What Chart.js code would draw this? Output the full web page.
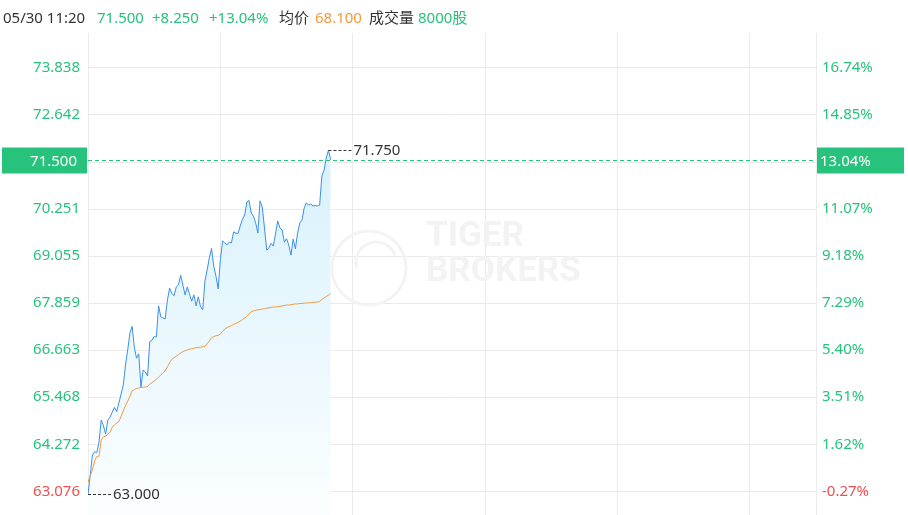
<!DOCTYPE html>
<html>
<head>
<meta charset="utf-8">
<script src="https://cdn.jsdelivr.net/npm/chart.js@4"></script>
<style>
  html, body { margin: 0; padding: 0; background: #fff; }
  #wrap { position: relative; width: 908px; height: 515px; }
  canvas { display: block; }
  #head { position: absolute; left: 0; top: 7px; width: 600px; height: 20px; font: 15px "Noto Sans", "Noto Sans CJK SC", sans-serif; line-height: 20px; color: #333; white-space: pre; }
  #head span { position: absolute; top: 0; }
  .up { color: #27c27c; }
  .avg { color: #f5993a; }
</style>
</head>
<body>
<div id="wrap">
  <canvas id="chart" width="908" height="515"></canvas>
  <div id="head"><span style="left:3px">05/30 11:20</span><span class="up" style="left:97px">71.500</span><span class="up" style="left:152px">+8.250</span><span class="up" style="left:209px">+13.04%</span><span style="left:279px">均价</span><span class="avg" style="left:315px">68.100</span><span style="left:369px">成交量</span><span class="up" style="left:418px">8000股</span></div>
</div>
<script>
const prevClose = 63.25;
const lastPrice = 71.5;
const totalMinutes = 330;

// minute prices from 09:30 to 11:20
const priceData = [
  63.00, 63.49, 64.00, 64.08, 64.06, 64.33, 64.89, 64.74, 64.53, 64.89,
  64.96, 65.09, 65.21, 65.10, 65.32, 65.55, 65.78, 66.29, 66.67, 67.10,
  67.27, 66.74, 66.46, 66.57, 65.73, 66.16, 66.11, 66.01, 66.88, 66.92,
  67.01, 67.00, 67.79, 67.51, 67.48, 67.46, 67.94, 68.24, 68.10, 68.05,
  68.27, 68.32, 68.57, 68.32, 68.07, 68.27, 68.09, 67.91, 68.07, 67.79,
  68.02, 67.77, 67.69, 68.42, 68.70, 69.01, 69.25, 68.80, 68.55, 68.22,
  68.96, 69.44, 69.39, 69.34, 69.41, 69.39, 69.67, 69.64, 69.63, 69.82,
  69.99, 70.10, 70.43, 70.47, 70.15, 70.07, 69.90, 69.64, 70.46, 70.30,
  69.77, 69.21, 69.26, 69.38, 69.31, 69.62, 69.95, 69.77, 69.72, 69.41,
  69.50, 69.34, 69.08, 69.49, 69.24, 69.64, 69.90, 69.97, 70.28, 70.41,
  70.35, 70.38, 70.33, 70.34, 70.33, 70.35, 71.09, 71.24, 71.55, 71.75,
  71.50
];

const avgData = [
  63.31, 63.47, 63.62, 63.85, 63.96, 63.97, 64.38, 64.46, 64.48, 64.52,
  64.58, 64.71, 64.77, 64.81, 64.85, 64.98, 65.12, 65.26, 65.37, 65.49,
  65.63, 65.66, 65.69, 65.70, 65.72, 65.72, 65.73, 65.74, 65.80, 65.84,
  65.88, 65.92, 65.98, 66.03, 66.09, 66.14, 66.24, 66.35, 66.43, 66.47,
  66.51, 66.55, 66.59, 66.63, 66.65, 66.67, 66.69, 66.70, 66.71, 66.73,
  66.73, 66.74, 66.75, 66.76, 66.83, 66.90, 66.98, 67.01, 67.03, 67.04,
  67.07, 67.14, 67.20, 67.24, 67.26, 67.29, 67.32, 67.34, 67.37, 67.40,
  67.44, 67.48, 67.52, 67.59, 67.64, 67.66, 67.68, 67.69, 67.70, 67.71,
  67.72, 67.73, 67.74, 67.75, 67.76, 67.76, 67.77, 67.78, 67.79, 67.80,
  67.81, 67.81, 67.82, 67.83, 67.84, 67.84, 67.85, 67.85, 67.86, 67.86,
  67.87, 67.87, 67.88, 67.88, 67.89, 67.90, 67.95, 67.99, 68.03, 68.06,
  68.10
];

const priceTicks = [63.076, 64.272, 65.468, 66.663, 67.859, 69.055, 70.251, 71.446, 72.642, 73.838];
const priceLabels = ['63.076', '64.272', '65.468', '66.663', '67.859', '69.055', '70.251', '', '72.642', '73.838'];
const pctLabels = ['-0.27%', '1.62%', '3.51%', '5.40%', '7.29%', '9.18%', '11.07%', '', '14.85%', '16.74%'];

const green = '#27c27c';
const red = '#f24e4e';
const gridColor = '#ebebeb';
const font = '"Noto Sans", "Noto Sans CJK SC", sans-serif';

function tickColor(ctx) {
  return ctx.tick && ctx.tick.value < prevClose ? red : green;
}

function fitY(width) {
  return (s) => {
    s.width = width;
    s.paddingTop = 0;
    s.paddingBottom = 0;
  };
}

const overlay = {
  id: 'overlay',
  beforeDatasetsDraw(chart) {
    // watermark
    const c = chart.ctx;
    c.save();
    c.strokeStyle = '#f3f3f3';
    c.lineWidth = 3;
    c.beginPath();
    c.arc(369, 268, 37, 0, Math.PI * 2);
    c.stroke();
    c.beginPath();
    c.arc(376, 262, 20, Math.PI * 0.9, Math.PI * 1.9);
    c.stroke();
    c.fillStyle = '#f3f3f3';
    c.font = 'bold 35px Roboto';
    c.textBaseline = 'middle';
    c.fillText('TIGER', 426, 237);
    c.fillText('BROKERS', 426, 272);
    c.restore();
  },
  afterDraw(chart) {
    const c = chart.ctx;
    const xs = chart.scales.x;
    const ys = chart.scales.y;
    const area = chart.chartArea;
    c.save();

    // current price line
    const yLast = Math.round(ys.getPixelForValue(lastPrice)) + 0.5;
    c.strokeStyle = green;
    c.lineWidth = 1;
    c.setLineDash([4, 3]);
    c.beginPath();
    c.moveTo(area.left, yLast);
    c.lineTo(area.right, yLast);
    c.stroke();

    // high / low marks
    const hi = Math.max(...priceData);
    const lo = Math.min(...priceData);
    c.strokeStyle = '#333';
    c.setLineDash([3, 2]);
    c.font = '15px ' + font;
    c.fillStyle = '#333';
    c.textBaseline = 'middle';
    [[hi, priceData.indexOf(hi)], [lo, priceData.indexOf(lo)]].forEach(([v, i]) => {
      const px = xs.getPixelForValue(i);
      const py = Math.round(ys.getPixelForValue(v)) + 0.5;
      c.beginPath();
      c.moveTo(px, py);
      c.lineTo(px + 23, py);
      c.stroke();
      c.fillText(v.toFixed(3), px + 25, py);
    });
    c.setLineDash([]);

    // badges
    c.fillStyle = green;
    c.fillRect(2, yLast - 13, 85, 26);
    c.fillRect(817, yLast - 13, 87, 26);
    c.fillStyle = '#fff';
    c.textAlign = 'right';
    c.fillText(lastPrice.toFixed(3), 77, yLast + 1);
    c.textAlign = 'left';
    c.fillText(((lastPrice / prevClose - 1) * 100).toFixed(2) + '%', 820, yLast + 1);
    c.restore();
  }
};

new Chart(document.getElementById('chart'), {
  type: 'line',
  data: {
    datasets: [
      {
        data: priceData.map((v, i) => ({ x: i, y: v })),
        order: 2,
        borderColor: '#3b8fe8',
        borderWidth: 1,
        pointRadius: 0,
        tension: 0,
        fill: 'start',
        backgroundColor: (ctx) => {
          const area = ctx.chart.chartArea;
          if (!area) return 'rgba(220,242,252,0.8)';
          const g = ctx.chart.ctx.createLinearGradient(0, 150, 0, area.bottom);
          g.addColorStop(0, 'rgba(216,241,252,1)');
          g.addColorStop(1, 'rgba(251,254,255,1)');
          return g;
        }
      },
      {
        data: avgData.map((v, i) => ({ x: i, y: v })),
        order: 1,
        borderColor: '#f5993a',
        borderWidth: 1,
        pointRadius: 0,
        tension: 0,
        fill: false
      }
    ]
  },
  options: {
    responsive: false,
    animation: false,
    layout: { padding: { top: 33, bottom: 0, left: 0, right: 0 } },
    plugins: { legend: { display: false }, tooltip: { enabled: false } },
    scales: {
      x: {
        type: 'linear',
        min: 0,
        max: totalMinutes,
        ticks: { display: false, stepSize: 60 },
        grid: { color: gridColor, drawTicks: false },
        border: { display: false },
        afterFit: (s) => { s.height = 0; s.paddingLeft = 0; s.paddingRight = 0; }
      },
      y: {
        position: 'left',
        min: 62.474,
        max: 74.726,
        afterBuildTicks: (s) => { s.ticks = priceTicks.map((v) => ({ value: v })); },
        afterFit: fitY(88),
        ticks: {
          padding: 8,
          color: tickColor,
          font: { size: 15, family: font },
          callback: (v, i) => priceLabels[i]
        },
        grid: { color: gridColor, drawTicks: false },
        border: { color: gridColor }
      },
      y2: {
        position: 'right',
        min: 62.474,
        max: 74.726,
        afterBuildTicks: (s) => { s.ticks = priceTicks.map((v) => ({ value: v })); },
        afterFit: fitY(92),
        ticks: {
          padding: 6,
          color: tickColor,
          font: { size: 15, family: font },
          callback: (v, i) => pctLabels[i]
        },
        grid: { display: false, drawTicks: false },
        border: { color: gridColor }
      }
    }
  },
  plugins: [overlay]
});
</script>
</body>
</html>
